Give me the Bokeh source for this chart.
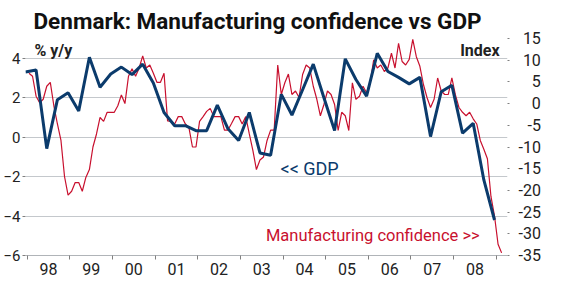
from bokeh.plotting import figure
from bokeh.models import Range1d, LinearAxis, FixedTicker, Label
from bokeh.embed import file_html
from bokeh.resources import INLINE

# ---------------- data ----------------
tick_years = list(range(1998, 2009))
tick_labels = ["98", "99", "00", "01", "02", "03", "04", "05", "06", "07", "08"]

# GDP, % y/y, quarterly from 1997Q4 to 2008Q4
gdp_start = (1997, 4)
gdp = [3.3,
       3.4, -0.58, 1.9, 2.25,
       1.33, 4.05, 2.53, 3.2,
       3.55, 3.17, 3.7, 2.75,
       1.25, 0.58, 0.58, 0.33,
       0.33, 1.62, 0.42, -0.17,
       1.25, -0.8, -0.92, 2.17,
       1.12, 2.4, 3.7, 2.0,
       0.33, 3.97, 2.92, 2.08,
       4.25, 3.33, 3.03, 2.7,
       3.03, 0.03, 2.3, 2.63,
       0.2, 0.7, -2.17, -4.2]

# Manufacturing confidence, index, monthly from 1998-01
conf_start = (1998, 1)
conf = [7.0, 6.3, 1.7, 0.2, 1.0, 4.0, 4.9, -0.5, -4.7, -8.5, -16.8, -21.1,
        -20.2, -18.2, -18.2, -20.2, -17.0, -15.2, -10.0, -7.0, -3.2, -4.1, -2.0, -2.0,
        -2.0, -0.5, 2.0, 0.0, 6.3, 8.0, 6.3, 8.2, 11.0, 8.2, 8.9, 7.0,
        4.9, 4.9, 7.0, -4.0, -4.1, -4.7, -3.0, -3.0, -4.7, -5.5, -10.0, -10.0,
        -4.1, -3.0, -1.8, -1.1, -3.0, -3.0, -3.0, -6.1, -6.1, -4.6, -3.0, -3.0,
        -4.7, -3.0, -7.0, -10.8, -15.2, -13.0, -12.3, -8.5, -6.1, -6.1, 8.9, 2.1,
        4.8, 6.8, 2.1, 2.9, 1.4, 6.7, 8.9, 8.2, 4.0, 1.0, -2.8, -0.2,
        2.9, 2.1, -0.2, -6.2, -2.0, -2.8, -6.2, 4.8, 1.0, 1.7, 4.0, 2.5,
        4.8, 10.1, 8.2, 8.9, 7.4, 8.2, 11.6, 8.2, 13.9, 9.7, 8.9, 10.2,
        14.8, 10.8, 8.6, 4.4, 1.4, -0.9, 1.0, 5.9, 2.9, 2.1, 2.1, 5.9,
        2.0, -0.9, -2.0, -2.8, -2.0, -3.5, -4.7, -8.5, -10.5, -12.7, -21.4, -25.9,
        -32.4, -34.4]

left_ticks = [-6, -4, -2, 0, 2, 4]
right_ticks = [-35, -30, -25, -20, -15, -10, -5, 0, 5, 10, 15]

# ---------------- helpers ----------------
def quarter_x(start, n):
    y, q = start
    out = []
    for _ in range(n):
        out.append(y + (3 * q - 0.5) / 12.0)
        q += 1
        if q > 4:
            q = 1
            y += 1
    return out

def month_x(start, n):
    y, m = start
    return [y + (m - 1 + i + 0.5) / 12.0 for i in range(n)]

def right_label(v):
    # pad with figure / punctuation spaces so the labels line up on the right
    s = str(v)
    digits = sum(c.isdigit() for c in s)
    pad = "\u2007" * (2 - digits) + ("" if s.startswith("-") else "\u2008")
    return pad + s

gdp_x = quarter_x(gdp_start, len(gdp))
conf_x = month_x(conf_start, len(conf))

NAVY = "#0b3b6c"
RED = "#c8102e"
GRID = "#c4c8cc"
TXT = "#222222"
FONT = "Roboto"

p = figure(width=546, height=277, output_backend="svg", toolbar_location=None,
           x_range=Range1d(1997.96, 2009.263), y_range=Range1d(-6, 5),
           min_border_left=21, min_border_right=39, min_border_top=35,
           min_border_bottom=22, outline_line_color=None, x_axis_location=None,
           y_axis_location=None)
p.extra_y_ranges = {"right": Range1d(-35, 15)}

# axes
xaxis = LinearAxis(ticker=FixedTicker(ticks=[y + 0.5 for y in tick_years],
                                      minor_ticks=tick_years + [2009]),
                   major_label_overrides={y + 0.5: l for y, l in zip(tick_years, tick_labels)})
xaxis.axis_line_color = "#b0b4b8"
xaxis.major_tick_out = 0
xaxis.major_tick_in = 0
xaxis.minor_tick_out = 4
xaxis.minor_tick_in = 0
xaxis.minor_tick_line_color = "#808080"
xaxis.major_label_standoff = 3
xaxis.major_label_text_font = FONT
xaxis.major_label_text_font_size = "16px"
xaxis.major_label_text_line_height = 1.0
xaxis.major_label_text_color = TXT
p.add_layout(xaxis, "below")

yaxis = LinearAxis(ticker=FixedTicker(ticks=left_ticks))
yaxis.axis_line_color = None
yaxis.major_tick_out = 3
yaxis.major_tick_in = 0
yaxis.major_tick_line_color = "#808080"
yaxis.minor_tick_line_color = None
yaxis.major_label_standoff = 2
yaxis.major_label_text_font = FONT
yaxis.major_label_text_font_size = "15px"
yaxis.major_label_text_color = TXT
p.add_layout(yaxis, "left")

raxis = LinearAxis(y_range_name="right", ticker=FixedTicker(ticks=right_ticks),
                   major_label_overrides={v: right_label(v) for v in right_ticks})
raxis.axis_line_color = None
raxis.major_tick_out = 2
raxis.major_tick_in = 0
raxis.major_tick_line_color = "#808080"
raxis.minor_tick_line_color = None
raxis.major_label_standoff = 9
raxis.major_label_text_font = FONT
raxis.major_label_text_font_size = "16px"
raxis.major_label_text_color = TXT
p.add_layout(raxis, "right")

p.xgrid.visible = False
p.ygrid.ticker = FixedTicker(ticks=[-4, -2, 0, 2, 4])
p.ygrid.grid_line_color = GRID
p.ygrid.grid_line_width = 1

# lines
p.line(conf_x, conf, y_range_name="right", line_color=RED, line_width=1.2)
p.line(gdp_x, gdp, line_color=NAVY, line_width=3)

# title
p.title.text = "Denmark: Manufacturing confidence vs GDP"
p.title.text_font = FONT
p.title.text_font_size = "22.5px"
p.title.text_font_style = "bold"
p.title.text_color = "#111111"
p.title.align = "left"
p.title.offset = 8

# texts
p.add_layout(Label(x=1998.17, y=4.38, text="% y/y", text_font=FONT, text_font_size="16px",
                   text_font_style="bold", text_color=TXT, text_baseline="alphabetic"))
p.add_layout(Label(x=2009.077, y=4.37, text="Index", text_font=FONT, text_font_size="16px",
                   text_font_style="bold", text_color=TXT, text_align="right",
                   text_baseline="alphabetic"))
p.add_layout(Label(x=2003.94, y=-1.58, text="<< GDP", text_font=FONT, text_font_size="18px",
                   text_color=NAVY, text_baseline="alphabetic"))
p.add_layout(Label(x=2008.61, y=-5.0, text="Manufacturing confidence >>", text_font=FONT,
                   text_font_size="16.5px", text_color=RED, text_align="right",
                   text_baseline="alphabetic"))

open("out.html", "w").write(file_html(p, INLINE))
